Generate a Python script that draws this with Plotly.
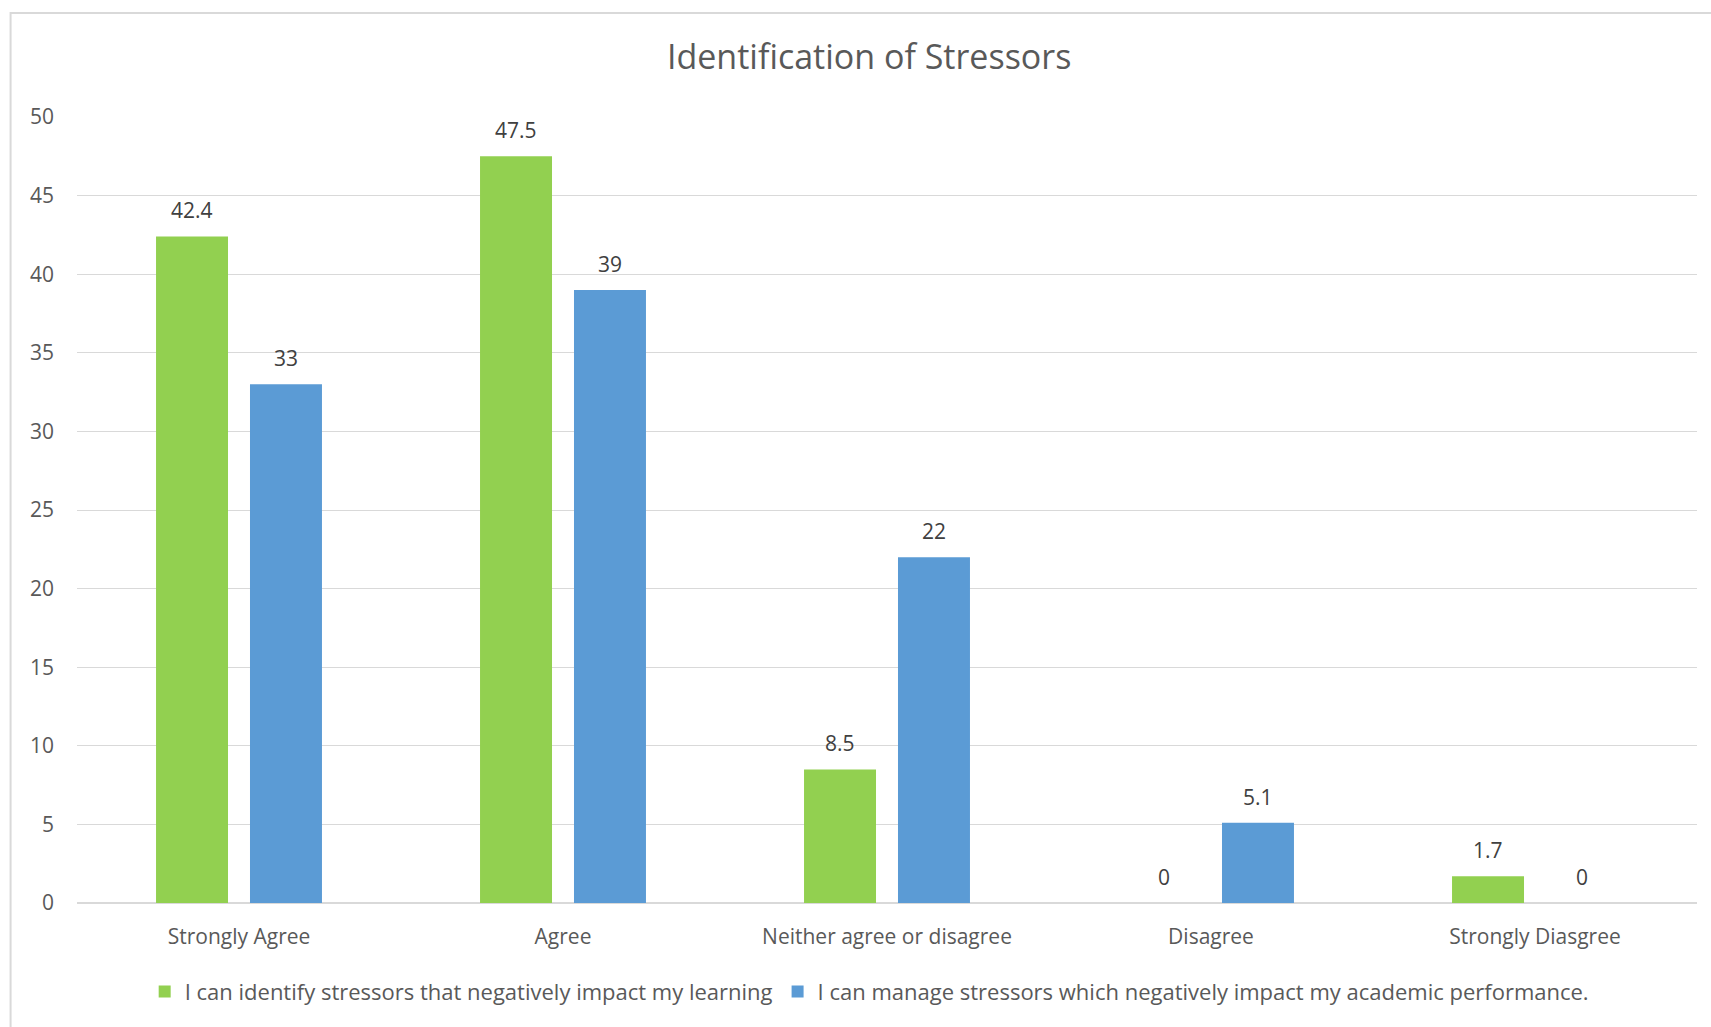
import plotly.graph_objects as go

categories = ["Strongly Agree", "Agree", "Neither agree or disagree", "Disagree", "Strongly Diasgree"]
identify_vals = [42.4, 47.5, 8.5, 0, 1.7]
manage_vals = [33, 39, 22, 5.1, 0]
series_names = [
    "I can identify stressors that negatively impact my learning",
    "I can manage stressors which negatively impact my academic performance.",
]
y_ticks = [0, 5, 10, 15, 20, 25, 30, 35, 40, 45, 50]

GREEN = "#92D050"
BLUE = "#5B9BD5"
FONT = "Open Sans"
TEXT_GRAY = "#595959"

fig = go.Figure()
fig.add_trace(go.Bar(x=categories, y=identify_vals, name=series_names[0],
                     marker=dict(color=GREEN, line=dict(width=0))))
fig.add_trace(go.Bar(x=categories, y=manage_vals, name=series_names[1],
                     marker=dict(color=BLUE, line=dict(width=0))))

# value labels above each bar
annotations = []
for vals, shift in ((identify_vals, -47), (manage_vals, 47)):
    for cat, v in zip(categories, vals):
        annotations.append(dict(
            x=cat, y=v, xref="x", yref="y", text=f"{v:g}", showarrow=False,
            xshift=shift, yshift=10, yanchor="bottom",
            font=dict(family=FONT, size=21, color="#404040"),
        ))

fig.update_layout(
    width=1711, height=1027,
    margin=dict(l=77, r=14, t=117, b=124),
    paper_bgcolor="white", plot_bgcolor="white",
    barmode="group", bargap=0.42, bargroupgap=0.234,
    title=dict(text="Identification of Stressors", x=0.508, xanchor="center",
               y=1 - 57 / 1027, yanchor="middle",
               font=dict(family=FONT, size=34, color=TEXT_GRAY)),
    font=dict(family=FONT, color=TEXT_GRAY),
    xaxis=dict(showgrid=False, showline=False, ticks="",
               ticklabelstandoff=19,
               tickfont=dict(family=FONT, size=21, color=TEXT_GRAY)),
    yaxis=dict(range=[0, 50], tickvals=y_ticks, showgrid=True,
               gridcolor="#D9D9D9", gridwidth=1.3, zeroline=True,
               zerolinecolor="#D9D9D9", zerolinewidth=1.5, showline=False,
               ticks="", ticklabelstandoff=22,
               tickfont=dict(family=FONT, size=21, color=TEXT_GRAY)),
    legend=dict(orientation="h", x=0.489, xanchor="center", y=-0.113,
                yanchor="middle", font=dict(family=FONT, size=22, color=TEXT_GRAY),
                itemwidth=30, traceorder="normal"),
    annotations=annotations,
    shapes=[dict(type="rect", xref="paper", yref="paper",
                 x0=-0.041, x1=1.05, y0=-0.3, y1=1.1323,
                 line=dict(color="#D9D9D9", width=2), layer="below")],
)

fig.write_html("out.html")
